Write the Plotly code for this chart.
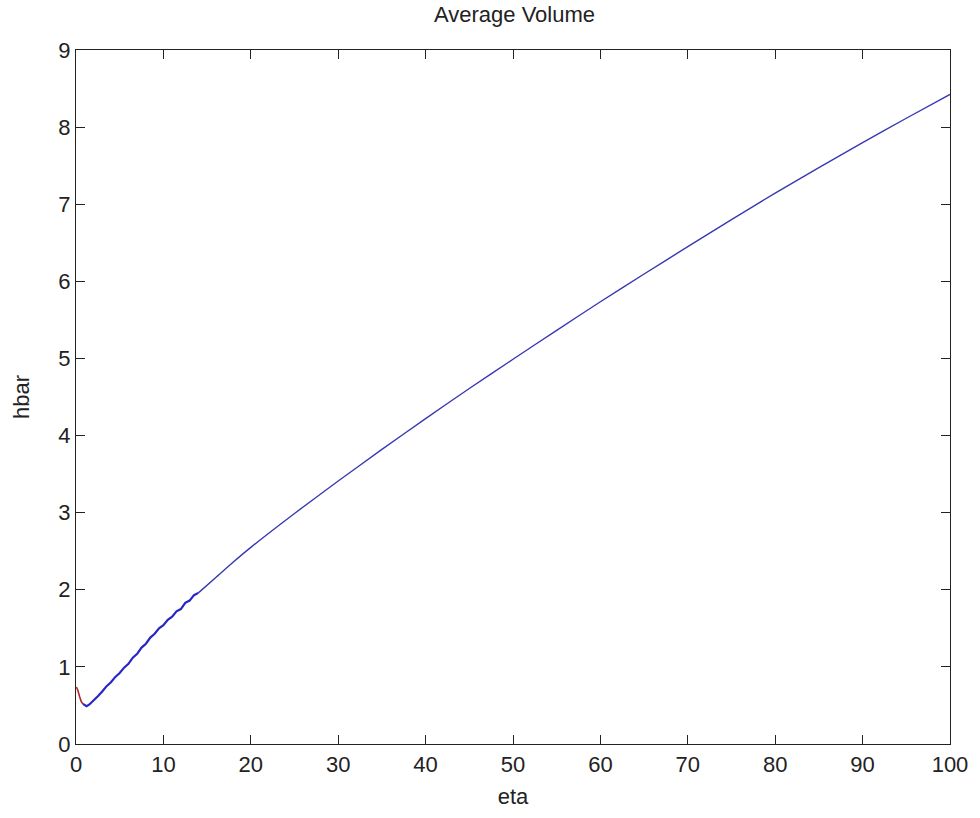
import plotly.graph_objects as go

# Red start-up segment near eta = 0
eta_start = [0.05, 0.2, 0.4, 0.6, 0.8]
hbar_start = [0.74, 0.70, 0.62, 0.55, 0.52]

# Noisy early blue segment
eta_early = [0.8, 1.0, 1.2, 1.5, 2.0, 2.5, 3.0, 3.5, 4.0, 4.5, 5.0, 5.5, 6.0, 6.5,
             7.0, 7.5, 8.0, 8.5, 9.0, 9.5, 10.0, 10.5, 11.0, 11.5, 12.0, 12.5,
             13.0, 13.5, 14.0]
hbar_early = [0.52, 0.50, 0.49, 0.51, 0.56, 0.62, 0.68, 0.75, 0.80, 0.87, 0.92,
              0.99, 1.04, 1.12, 1.17, 1.25, 1.30, 1.38, 1.43, 1.50, 1.54, 1.61,
              1.65, 1.72, 1.75, 1.83, 1.86, 1.93, 1.96]

# Smooth blue segment
eta_main = [14, 16, 18, 20, 25, 30, 35, 40, 45, 50, 55, 60, 65, 70, 75, 80,
            85, 90, 95, 100]
hbar_main = [1.96, 2.16, 2.36, 2.55, 2.99, 3.41, 3.82, 4.22, 4.61, 4.99, 5.365,
             5.735, 6.095, 6.45, 6.80, 7.145, 7.475, 7.80, 8.115, 8.425]

x_ticks = list(range(0, 101, 10))
y_ticks = list(range(0, 10))

FONT = "Liberation Sans, Arial, sans-serif"
INK = "#222222"

fig = go.Figure()
fig.add_trace(go.Scatter(x=eta_main, y=hbar_main, mode="lines",
                         line=dict(color="#3838b4", width=1.4, shape="spline",
                                   smoothing=0.6),
                         showlegend=False))
fig.add_trace(go.Scatter(x=eta_early, y=hbar_early, mode="lines",
                         line=dict(color="#2626c6", width=2.2), showlegend=False))
fig.add_trace(go.Scatter(x=eta_start, y=hbar_start, mode="lines",
                         line=dict(color="#b02a2a", width=1.6), showlegend=False))

axis_common = dict(
    showline=True, linecolor=INK, linewidth=1.2, mirror="ticks",
    ticks="inside", ticklen=9, tickcolor=INK, tickwidth=1.2,
    showgrid=False, zeroline=False,
    tickfont=dict(family=FONT, size=22, color=INK),
)

fig.update_layout(
    width=980, height=818,
    margin=dict(l=76, r=26, t=50, b=74),
    paper_bgcolor="white", plot_bgcolor="white",
    title=dict(text="Average Volume", x=0.525, xanchor="center", y=0.983,
               yanchor="middle", font=dict(family=FONT, size=22, color=INK)),
    xaxis=dict(range=[0, 100], tickvals=x_ticks, ticktext=[str(v) for v in x_ticks],
               title=dict(text="eta", font=dict(family=FONT, size=22, color=INK),
                          standoff=13),
               **axis_common),
    yaxis=dict(range=[0, 9], tickvals=y_ticks, ticktext=[str(v) for v in y_ticks],
               title=dict(text="hbar", font=dict(family=FONT, size=22, color=INK),
                          standoff=22),
               **axis_common),
)

fig.write_html("out.html")
